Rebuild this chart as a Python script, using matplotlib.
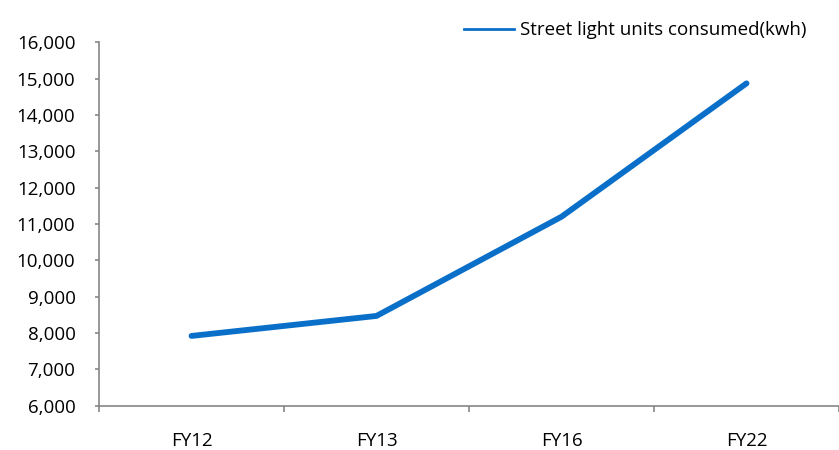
import matplotlib
matplotlib.use("Agg")
import matplotlib.pyplot as plt
from matplotlib.lines import Line2D
from matplotlib.ticker import FuncFormatter, FixedLocator

plt.rcParams['font.family'] = ['Open Sans', 'DejaVu Sans']

categories = ["FY12", "FY13", "FY16", "FY22"]
units_kwh = [7920, 8470, 11200, 14870]
series_name = "Street light units consumed(kwh)"

line_color = "#0A6FC9"
axis_color = "#868686"

fig = plt.figure(figsize=(8.39, 4.5), dpi=100)
ax = fig.add_axes([99 / 839, 1 - 405.7 / 450, 1 - 99 / 839, (405.7 - 42.3) / 450])

x = list(range(len(categories)))
ax.plot(x, units_kwh, color=line_color, linewidth=4.2, solid_capstyle='round',
        solid_joinstyle='round')

ax.set_xlim(-0.5, len(categories) - 0.5)
ax.set_ylim(6000, 16000)
ax.yaxis.set_major_locator(FixedLocator(range(6000, 16001, 1000)))
ax.yaxis.set_major_formatter(FuncFormatter(lambda v, p: f"{int(v):,}"))

# category labels centred, tick marks on the boundaries
ax.set_xticks(x)
ax.set_xticklabels(categories)
ax.set_xticks([i - 0.5 for i in range(len(categories) + 1)], minor=True)
ax.tick_params(axis='x', which='major', length=0, pad=19, labelsize=13.5, colors='black')
ax.tick_params(axis='x', which='minor', length=4, width=1.2, color=axis_color, direction='out')
ax.tick_params(axis='y', which='major', length=3, width=1.2, color=axis_color, pad=14,
               labelsize=13.5, labelcolor='black', direction='out')

for side in ('top', 'right'):
    ax.spines[side].set_visible(False)
for side in ('left', 'bottom'):
    ax.spines[side].set_color(axis_color)
    ax.spines[side].set_linewidth(1.2)

handle = Line2D([], [], color=line_color, linewidth=2)
fig.legend([handle], [series_name], loc='upper right', bbox_to_anchor=(0.977, 0.982),
           frameon=False, fontsize=13.5, handlelength=2.7, handletextpad=0.3,
           borderaxespad=0.3)

fig.savefig("out.png", dpi=100)
